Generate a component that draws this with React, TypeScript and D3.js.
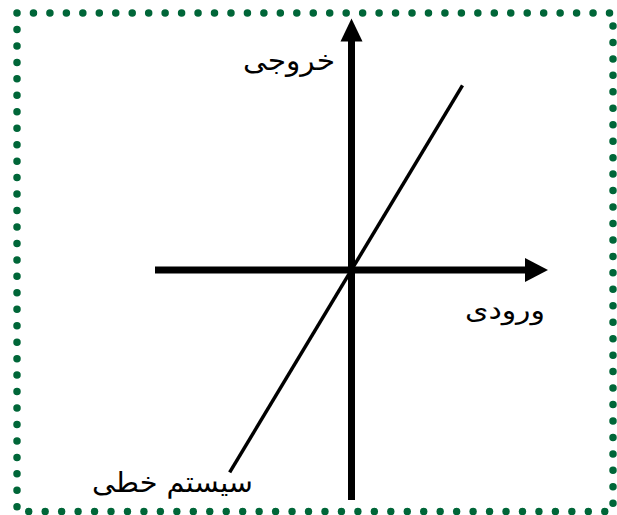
import React, { useEffect, useRef } from 'react';
import * as d3 from 'd3';

// axis extents (in input / output units, origin at 0)
const xExtent = [-1, 1];
const yExtent = [-1.17, 1.28];

// the linear system: output = gain * input
const lineInput = [-0.62, 0.565];
const lineOutput = [-1.03, 0.94];

const labels = ['خروجی', 'ورودی', 'سیستم خطی'];

const App = () => {
  const svgRef = useRef<SVGSVGElement>(null);

  useEffect(() => {
    const width = 617,
      height = 515;

    const svg = d3.select(svgRef.current).attr('width', width).attr('height', height);
    svg.selectAll('*').remove();

    svg.append('rect').attr('width', width).attr('height', height).attr('fill', '#fff');

    // dotted green frame
    const fx0 = 17, fy0 = 13, fx1 = 613, fy1 = 511.5;
    const per = 2 * (fx1 - fx0 + fy1 - fy0);
    const gap = per / Math.round(per / 16.4);
    svg
      .append('rect')
      .attr('x', fx0)
      .attr('y', fy0)
      .attr('width', fx1 - fx0)
      .attr('height', fy1 - fy0)
      .attr('fill', 'none')
      .attr('stroke', '#006638')
      .attr('stroke-width', 7.5)
      .attr('stroke-linecap', 'round')
      .attr('stroke-dasharray', `0 ${gap}`);

    const x = d3.scaleLinear().domain(xExtent).range([155, 548]);
    const unit = x(1) - x(0);
    const y = d3
      .scaleLinear()
      .domain(yExtent)
      .range([270 - yExtent[0] * unit, 270 - yExtent[1] * unit]);

    const x0 = x(0),
      y0 = y(0);

    // horizontal axis
    svg
      .append('line')
      .attr('x1', x(xExtent[0]))
      .attr('x2', x(xExtent[1]) - 20)
      .attr('y1', y0)
      .attr('y2', y0)
      .attr('stroke', '#000')
      .attr('stroke-width', 7);
    svg
      .append('path')
      .attr('d', `M${x(xExtent[1])},${y0}L${x(xExtent[1]) - 23},${y0 - 12}L${x(xExtent[1]) - 23},${y0 + 12}Z`)
      .attr('fill', '#000');

    // vertical axis
    svg
      .append('line')
      .attr('x1', x0)
      .attr('x2', x0)
      .attr('y1', y(yExtent[0]))
      .attr('y2', y(yExtent[1]) + 20)
      .attr('stroke', '#000')
      .attr('stroke-width', 7);
    svg
      .append('path')
      .attr('d', `M${x0},${y(yExtent[1])}L${x0 - 11},${y(yExtent[1]) + 23}L${x0 + 11},${y(yExtent[1]) + 23}Z`)
      .attr('fill', '#000');

    // system line
    const line = d3
      .line<number>()
      .x((d) => x(d))
      .y((d, i) => y(lineOutput[i]));
    svg
      .append('path')
      .attr('d', line(lineInput))
      .attr('fill', 'none')
      .attr('stroke', '#000')
      .attr('stroke-width', 3.5);

    const font = "'DejaVu Sans', 'Noto Sans', sans-serif";
    const addLabel = (t: string, ax: number, ay: number, size: number, len: number) =>
      svg
        .append('text')
        .attr('x', ax)
        .attr('y', ay)
        .attr('direction', 'rtl')
        .attr('text-anchor', 'start')
        .attr('font-family', font)
        .attr('font-size', size)
        .attr('textLength', len)
        .attr('lengthAdjust', 'spacingAndGlyphs')
        .text(t);

    addLabel(labels[0], 335, 70, 28, 92);
    addLabel(labels[1], 545, 319, 26, 80);
    addLabel(labels[2], 253, 492, 28, 161);
  }, []);

  return <svg ref={svgRef} style={{ position: 'absolute', left: 0, top: 0 }}></svg>;
};

export default App;
